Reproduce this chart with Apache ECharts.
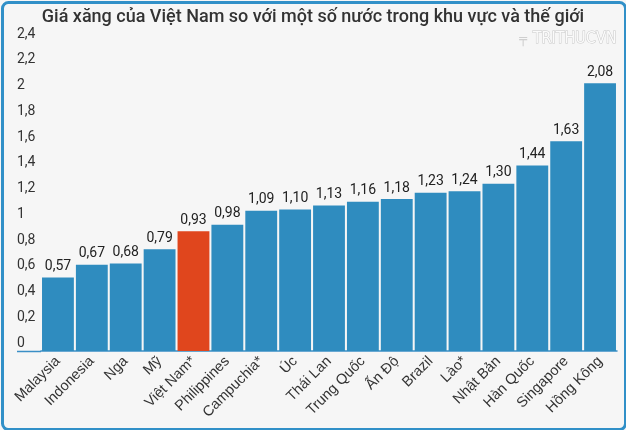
<!DOCTYPE html>
<html><head><meta charset="utf-8">
<script src="https://cdn.jsdelivr.net/npm/echarts@6/dist/echarts.min.js"></script>
<style>html,body{margin:0;padding:0;background:#fff}#c{width:626px;height:430px}</style>
</head><body><div id="c"></div>
<script>
const categories = ["Malaysia","Indonesia","Nga","Mỹ","Việt Nam*","Philippines","Campuchia*","Úc","Thái Lan","Trung Quốc","Ấn Độ","Brazil","Lào*","Nhật Bản","Hàn Quốc","Singapore","Hồng Kông"];
const values = [0.57,0.67,0.68,0.79,0.93,0.98,1.09,1.10,1.13,1.16,1.18,1.23,1.24,1.30,1.44,1.63,2.08];
const highlight = "Việt Nam*";
const yTicks = [0,0.2,0.4,0.6,0.8,1,1.2,1.4,1.6,1.8,2,2.2,2.4];
const titleText = "Giá xăng của Việt Nam so với một số nước trong khu vực và thế giới";
const watermark = "TRITHUCVN";

const BLUE = "#2f8cbf", RED = "#e0461d";
const chart = echarts.init(document.getElementById('c'), null, {renderer:'canvas'});
const fmt = v => String(v).replace('.', ',');
chart.setOption({
  backgroundColor: '#f6f6f6',
  animation: false,
  title: {text: titleText, left: 'center', top: 3,
    textStyle:{fontFamily:'Roboto', fontSize:18, fontWeight:500, color:'#333'}},
  graphic: [
    {type:'rect', left:0, top:0, z:100, silent:true,
     shape:{x:1.5,y:1.5,width:623,height:427,r:6},
     style:{fill:'none', stroke:'#3190c8', lineWidth:3}},
    {type:'text', right:9, top:30, z:50,
     style:{text:watermark, fill:'#fbfbfb', stroke:'#c8c8c8', lineWidth:1, font:'16px "DejaVu Sans Condensed"'}},
    {type:'text', right:99, top:33, z:50,
     style:{text:'╤', fill:'#cfcfcf', font:'13px "DejaVu Sans"'}},
    {type:'line', z:10, shape:{x1:17,y1:351.5,x2:41,y2:351.5}, style:{stroke:'#3a8fc6', lineWidth:1.5}}
  ],
  grid: {left:41, right:9, top:42, bottom:79},
  xAxis: {type:'category', data: categories,
    axisLine:{lineStyle:{color:'#3a8fc6', width:1.5}},
    axisTick:{show:false},
    axisLabel:{rotate:45, interval:0, margin:8, fontFamily:'Liberation Sans', fontSize:14.5, color:'#333'}},
  yAxis: {type:'value', min:0, max:2.4, interval:0.2,
    splitLine:{show:false}, axisLine:{show:false}, axisTick:{show:false},
    axisLabel:{align:'left', margin:24, verticalAlign:'bottom', padding:[0,0,1,0],
      fontFamily:'Roboto', fontSize:14, color:'#333',
      formatter: v => { const t = yTicks.find(x => Math.abs(x - v) < 1e-6); return t === undefined ? '' : fmt(Math.round(t*10)/10); }}},
  series: [{type:'bar', barCategoryGap:'6%',
    data: values.map((v,i) => ({value:v, itemStyle:{color: categories[i]===highlight ? RED : BLUE}})),
    label:{show:true, position:'top', distance:4, fontFamily:'Roboto', fontSize:14, color:'#222',
      formatter: p => p.value.toFixed(2).replace('.', ',')}}]
});
</script></body></html>
